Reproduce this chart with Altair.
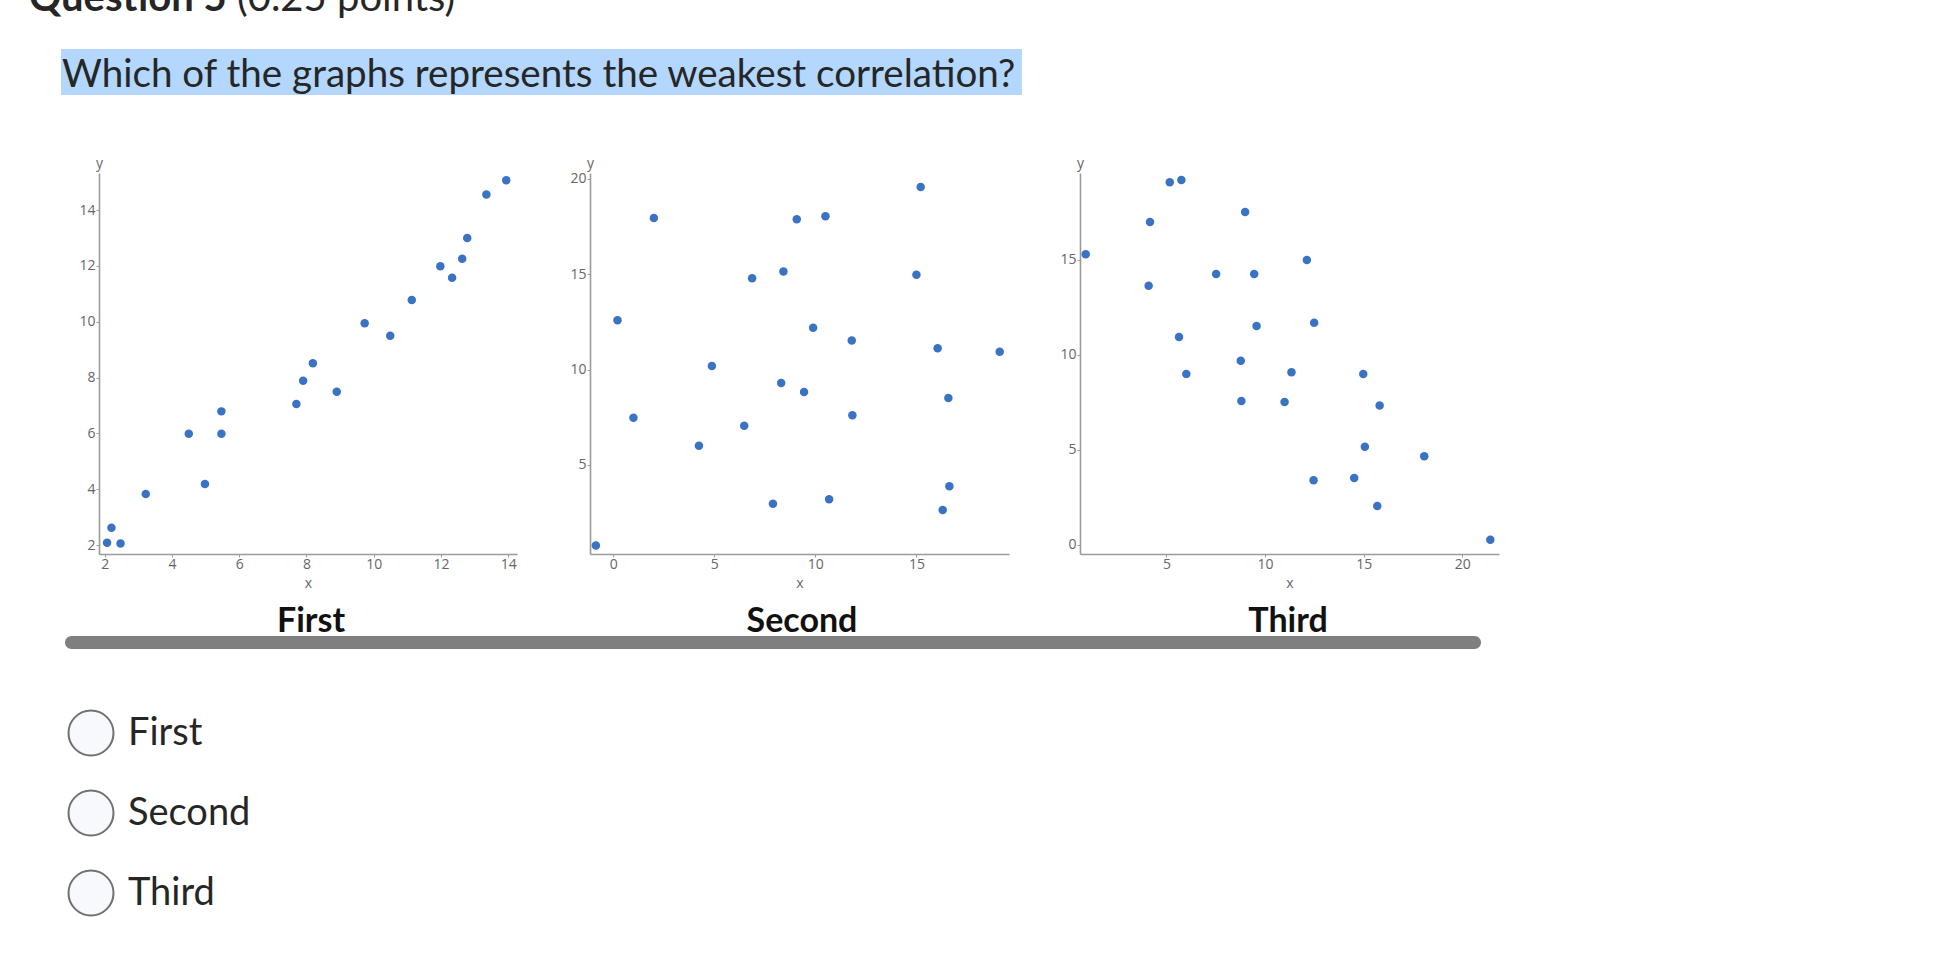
import altair as alt
import pandas as pd

# ---------------- data ----------------
first_x = [2.07, 2.2, 2.47, 3.22, 4.5, 4.98, 5.47, 5.47, 7.7, 7.9, 8.19, 8.9, 9.73, 10.49, 11.13, 11.98, 12.33, 12.63, 12.78, 13.35, 13.94]
first_y = [2.08, 2.62, 2.06, 3.83, 5.99, 4.19, 6.79, 5.99, 7.05, 7.89, 8.51, 7.49, 9.95, 9.5, 10.78, 11.99, 11.58, 12.26, 13.0, 14.56, 15.07]

second_x = [-0.86, 0.21, 1.0, 2.01, 4.24, 4.88, 6.48, 6.87, 7.9, 8.31, 8.42, 9.08, 9.44, 9.89, 10.5, 10.68, 11.8, 11.83, 15.0, 15.21, 16.05, 16.3, 16.58, 16.63, 19.12]
second_y = [0.77, 12.59, 7.48, 17.95, 6.01, 10.19, 7.05, 14.79, 2.97, 9.3, 15.14, 17.88, 8.83, 12.2, 18.04, 3.2, 11.52, 7.6, 14.98, 19.58, 11.12, 2.64, 8.51, 3.88, 10.94]

third_x = [0.91, 4.1, 4.17, 5.17, 5.76, 5.64, 6.01, 7.52, 8.77, 8.8, 8.99, 9.45, 9.57, 10.99, 11.34, 12.12, 12.46, 12.49, 14.52, 14.98, 15.06, 15.69, 15.81, 18.07, 21.42]
third_y = [15.28, 13.63, 16.98, 19.07, 19.19, 10.93, 8.98, 14.25, 9.68, 7.56, 17.51, 14.25, 11.51, 7.51, 9.07, 14.98, 3.39, 11.68, 3.51, 8.98, 5.16, 2.04, 7.33, 4.65, 0.26]

first_xticks = [2, 4, 6, 8, 10, 12, 14]
first_yticks = [2, 4, 6, 8, 10, 12, 14]
second_xticks = [0, 5, 10, 15]
second_yticks = [5, 10, 15, 20]
third_xticks = [5, 10, 15, 20]
third_yticks = [0, 5, 10, 15]

panel_names = ["First", "Second", "Third"]
options = ["First", "Second", "Third"]
question_title = "Question 5"
question_points = "(0.25 points)"
prompt = "Which of the graphs represents the weakest correlation?"

# ---------------- layout / style ----------------
W, H = 1950, 954
AX_BOTTOM, AX_TOP = 554, 173
BLUE = "#3a73c3"
AXIS_GREY = "#9b9b9b"
LABEL_GREY = "#666666"
TEXT = "#262626"


def panel(xs, ys, xdom, ydom, xrange, xticks, yticks):
    df = pd.DataFrame({"x": xs, "y": ys})
    common = dict(
        grid=False, domainColor=AXIS_GREY, domainWidth=1.6, tickColor=AXIS_GREY,
        tickSize=3, tickWidth=1, labelColor=LABEL_GREY, labelFont="Open Sans",
        labelFontSize=14, labelOverlap=False, labelFlush=False,
        titleColor=LABEL_GREY, titleFont="Open Sans", titleFontSize=14,
        titleFontWeight="normal",
    )
    xaxis = alt.Axis(values=xticks, orient="bottom", offset=AX_BOTTOM - H, title="x",
                     labelPadding=0, titleY=33, titleBaseline="alphabetic", **common)
    yaxis = alt.Axis(values=yticks, orient="left", offset=-xrange[0], title="y",
                     labelPadding=1, titleAngle=0, titleX=0, titleY=167,
                     titleAlign="center", titleBaseline="alphabetic", **common)
    return alt.Chart(df).mark_circle(size=72, color=BLUE, opacity=1).encode(
        x=alt.X("x:Q", scale=alt.Scale(domain=xdom, range=xrange, nice=False, zero=False), axis=xaxis),
        y=alt.Y("y:Q", scale=alt.Scale(domain=ydom, range=[AX_BOTTOM, AX_TOP], nice=False, zero=False), axis=yaxis),
    )


p1 = panel(first_x, first_y, [1.83, 14.26], [1.68, 15.33], [99, 517], first_xticks, first_yticks)
p2 = panel(second_x, second_y, [-1.15, 19.58], [0.33, 20.31], [590, 1009], second_xticks, second_yticks)
p3 = panel(third_x, third_y, [0.62, 21.86], [-0.49, 19.56], [1080, 1499], third_xticks, third_yticks)

blank = alt.Chart(pd.DataFrame({"a": [0]}))


def text_at(txt, x, y, size, weight="normal", align="left", color=TEXT, font="Lato"):
    return blank.mark_text(text=txt, font=font, fontSize=size, fontWeight=weight,
                           align=align, baseline="alphabetic", color=color).encode(
        x=alt.value(x), y=alt.value(y))


layers = []
# question header (cut at top, as in the page screenshot)
layers.append(text_at(question_title, 29, 11, 40, weight="bold"))
layers.append(text_at(question_points, 237, 11, 40))
# highlighted prompt
layers.append(blank.mark_rect(color="#b3d7fe").encode(
    x=alt.value(61), x2=alt.value(1022), y=alt.value(49), y2=alt.value(95)))
layers.append(text_at(prompt, 62, 87, 38.6))
# scatter panels
layers += [p1, p2, p3]
# panel captions and grey bar
for name, cx in zip(panel_names, [311, 802, 1288]):
    layers.append(text_at(name, cx, 632, 34, weight="bold", align="center", color="#111111"))
layers.append(blank.mark_rect(color="#7f7f7f", cornerRadius=6.5).encode(
    x=alt.value(65), x2=alt.value(1481), y=alt.value(636), y2=alt.value(649)))
# radio options
for opt, cy in zip(options, [733, 813, 893]):
    layers.append(blank.mark_point(shape="circle", size=2025, filled=False, fill="#f8f9fd",
                                   fillOpacity=1, stroke="#707070", strokeWidth=2, opacity=1).encode(
        x=alt.value(91), y=alt.value(cy)))
    layers.append(text_at(opt, 128, cy + 12, 38))

chart = alt.layer(*layers).resolve_scale(x="independent", y="independent").properties(
    width=W, height=H, padding=0, autosize=alt.AutoSizeParams(type="none"),
    background="white",
).configure_view(stroke=None)

chart.save("out.html", embed_options={"renderer": "svg", "actions": False})
